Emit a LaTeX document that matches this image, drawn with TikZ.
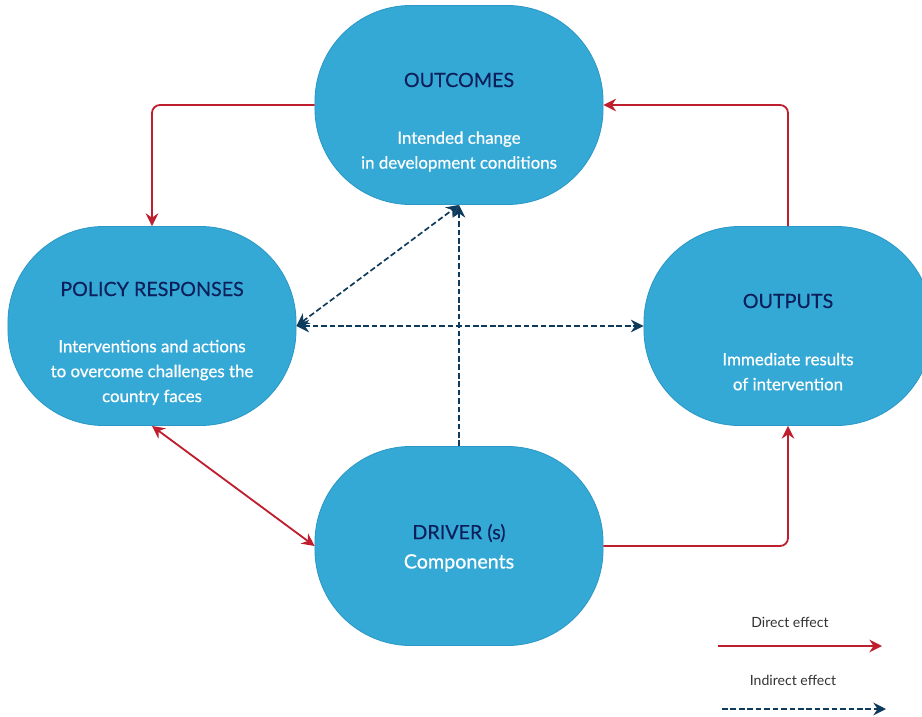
\documentclass[tikz,border=0pt]{standalone}
\usepackage{fontspec}
\setmainfont{Lato}
\usetikzlibrary{arrows.meta}
\definecolor{boxblue}{HTML}{35A9D6}
\definecolor{boxedge}{HTML}{2B98C6}
\definecolor{navy}{HTML}{0B1F5A}
\definecolor{directred}{HTML}{BE1E2D}
\definecolor{indirectblue}{HTML}{0E3A5C}
\tikzset{
  phase/.style={draw=boxedge, line width=0.6pt, fill=boxblue, rounded corners=2.4cm,
    minimum width=7.2cm, minimum height=4.975cm},
  heading/.style={text=navy, font=\fontsize{14}{17}\selectfont\addfontfeature{FakeBold=0.3}},
  body/.style={text=white, align=center, font=\fontsize{12}{17.7}\selectfont\addfontfeature{FakeBold=0.6}},
  direct/.style={draw=directred, line width=1.3pt, rounded corners=0.2cm,
    -{Stealth[length=9pt,width=9pt,inset=3pt]}},
  indirect/.style={draw=indirectblue, line width=1.2pt, dash pattern=on 4pt off 2pt,
    -{Stealth[length=9pt,width=9pt,inset=3pt]}},
  legendtext/.style={text=black!80, font=\fontsize{10}{12}\selectfont}
}
\begin{document}
\begin{tikzpicture}[x=0.025cm,y=-0.025cm]
\useasboundingbox (0,0) rectangle (922,717);
\clip (0,0) rectangle (922,717);

\node[phase] (outcomes) at (459,105) {};
\node[phase] (policy) at (152,326) {};
\node[phase] (outputs) at (788,326) {};
\node[phase] (driver) at (459,546) {};

\node[heading] (outcomestitle) at ([yshift=0.625cm]outcomes.center) {OUTCOMES};
\node[body] (outcomestext) at ([yshift=-1.16cm]outcomes.center) {Intended change\\in development conditions};
\node[heading] (policytitle) at ([yshift=0.925cm]policy.center) {POLICY RESPONSES};
\node[body] (policytext) at ([yshift=-1.16cm]policy.center) {Interventions and actions\\to overcome challenges the\\country faces};
\node[heading] (outputstitle) at ([yshift=0.625cm]outputs.center) {OUTPUTS};
\node[body] (outputstext) at ([yshift=-1.14cm]outputs.center) {Immediate results\\of intervention};
\node[heading] (drivertitle) at ([yshift=0.325cm]driver.center) {DRIVER (s)};
\node[body, font=\fontsize{14}{17}\selectfont\addfontfeature{FakeBold=0.6}] (drivertext) at ([yshift=-0.425cm]driver.center) {Components};

\draw[direct] (outcomes.west) -| (policy.north);
\draw[direct] (outputs.north) |- (outcomes.east);
\draw[direct] (driver.east) -| (outputs.south);
\draw[direct, {Stealth[length=9pt,width=9pt,inset=3pt]}-{Stealth[length=9pt,width=9pt,inset=3pt]}] (policy.south) -- (driver.west);

\draw[indirect] (driver.north) -- (outcomes.south);
\draw[indirect, {Stealth[length=9pt,width=9pt,inset=3pt]}-{Stealth[length=9pt,width=9pt,inset=3pt]}] (policy.east) -- (outputs.west);
\draw[indirect, {Stealth[length=9pt,width=9pt,inset=3pt]}-{Stealth[length=9pt,width=9pt,inset=3pt]}] (policy.east) -- (outcomes.south);

\node[legendtext] (directlabel) at (790,622) {Direct effect};
\coordinate (directfrom) at (718,646);
\coordinate (directto) at (882,646);
\draw[direct] (directfrom) -- (directto);
\node[legendtext] (indirectlabel) at (793,680) {Indirect effect};
\coordinate (indirectfrom) at (722,709);
\coordinate (indirectto) at (886,709);
\draw[indirect] (indirectfrom) -- (indirectto);
\end{tikzpicture}
\end{document}
